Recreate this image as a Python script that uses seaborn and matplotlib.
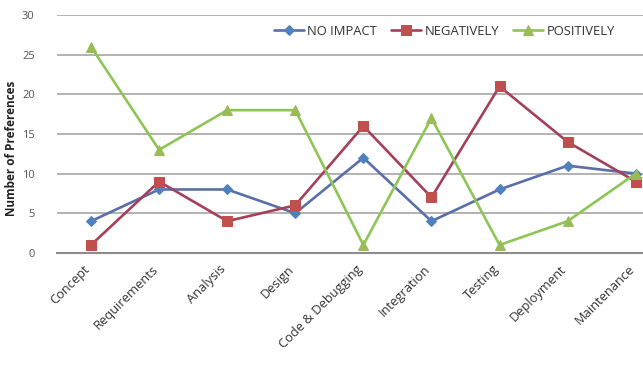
import numpy as np
import pandas as pd
import matplotlib
matplotlib.use("Agg")
import matplotlib.pyplot as plt
import matplotlib.transforms as mtransforms
import seaborn as sns

stages = ["Concept", "Requirements", "Analysis", "Design", "Code & Debugging",
          "Integration", "Testing", "Deployment", "Maintenance"]
no_impact = [4, 8, 8, 5, 12, 4, 8, 11, 10]
negatively = [1, 9, 4, 6, 16, 7, 21, 14, 9]
positively = [26, 13, 18, 18, 1, 17, 1, 4, 10]
series_names = ["NO IMPACT", "NEGATIVELY", "POSITIVELY"]
y_ticks = [0, 5, 10, 15, 20, 25, 30]

sns.set_theme(style="white")
plt.rcParams["font.family"] = ["Open Sans", "DejaVu Sans"]

df = pd.DataFrame({
    "pos": list(range(len(stages))) * 3,
    "value": no_impact + negatively + positively,
    "series": sum([[n] * len(stages) for n in series_names], []),
})

line_colors = {"NO IMPACT": "#5a6fa8", "NEGATIVELY": "#a4405a", "POSITIVELY": "#8fc456"}
marker_colors = {"NO IMPACT": "#4f81bd", "NEGATIVELY": "#c0504d", "POSITIVELY": "#9bbb59"}
markers = {"NO IMPACT": "D", "NEGATIVELY": "s", "POSITIVELY": "^"}
msizes = {"NO IMPACT": 5.5, "NEGATIVELY": 7, "POSITIVELY": 7.5}

fig = plt.figure(figsize=(6.43, 3.66), dpi=100)
ax = fig.add_axes([0.0886, 0.309, 0.953, 0.650])

for name in series_names:
    sub = df[df["series"] == name]
    sns.lineplot(data=sub, x="pos", y="value", ax=ax, color=line_colors[name],
                 linewidth=1.9, marker=markers[name], markersize=msizes[name],
                 markerfacecolor=marker_colors[name], markeredgecolor=marker_colors[name],
                 label=name, sort=False)

ax.set_xlim(-0.5, len(stages) - 0.5)
ax.set_ylim(0, 30)
ax.set_yticks(y_ticks)
ax.set_yticklabels([str(t) for t in y_ticks], color="#555555", fontsize=8)
ax.set_xticks(range(len(stages)))
ax.set_xticklabels([])

# category labels, rotated and nudged a little left of each tick
label_tf = ax.get_xaxis_transform() + mtransforms.ScaledTranslation(-5.5 / 72, -7 / 72, fig.dpi_scale_trans)
for i, name in enumerate(stages):
    ax.text(i, 0, name, transform=label_tf, rotation=45, ha="right", va="top",
            rotation_mode="anchor", fontsize=9.3, color="#333333")

ax.tick_params(axis="x", length=0)
ax.tick_params(axis="y", length=0, pad=16)
ax.set_xlabel("")
ax.set_ylabel("Number of Preferences", fontsize=8.5, fontweight="bold", color="#222222")
ax.yaxis.set_label_coords(-0.063, 0.44)

ax.grid(axis="y", color="#a6a6a6", linewidth=1.2)
ax.set_axisbelow(True)
for s in ["top", "right", "left"]:
    ax.spines[s].set_visible(False)
ax.spines["bottom"].set_color("#8c8c8c")
ax.spines["bottom"].set_linewidth(1.5)

leg = ax.legend(loc="upper left", bbox_to_anchor=(0.345, 0.98), ncol=3, frameon=False,
                fontsize=9.4, handlelength=2.3, columnspacing=1.1, handletextpad=0.25,
                borderaxespad=0)
for t in leg.get_texts():
    t.set_color("#333333")

fig.savefig("out.png", dpi=100)
